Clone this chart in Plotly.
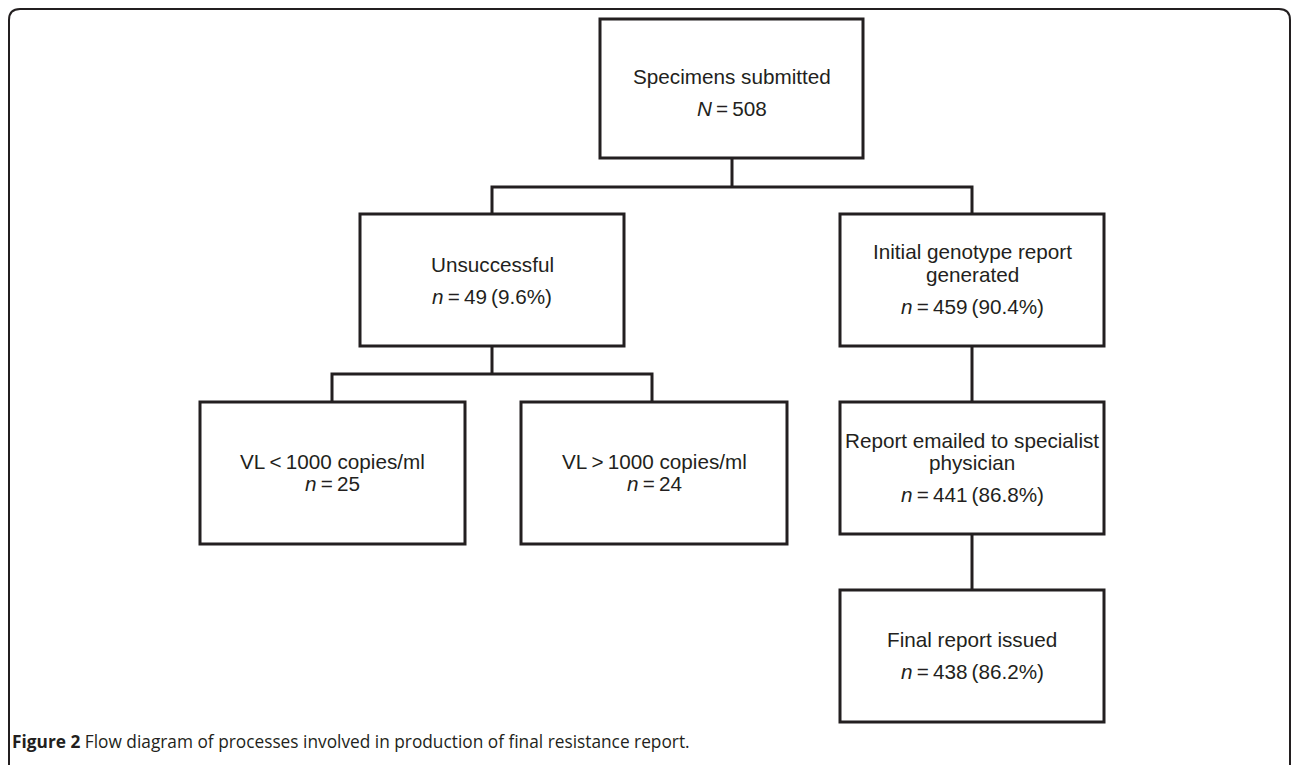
import plotly.graph_objects as go

# ---- data ----
titles = [
    ["Specimens submitted"],
    ["Unsuccessful"],
    ["Initial genotype report", "generated"],
    ["VL\u2009<\u20091000 copies/ml"],
    ["VL\u2009>\u20091000 copies/ml"],
    ["Report emailed to specialist", "physician"],
    ["Final report issued"],
]
count_symbols = ["N", "n", "n", "n", "n", "n", "n"]
counts = [508, 49, 459, 25, 24, 441, 438]
percents = [None, 9.6, 90.4, None, None, 86.8, 86.2]
caption_bold = "Figure 2"
caption_text = " Flow diagram of processes involved in production of final resistance report."

# ---- layout (pixel geometry) ----
W, H = 1292, 765
boxes = [  # x0, x1, y0, y1, line centres
    (600, 863, 19, 158, [76, 108]),
    (360, 624, 214, 346, [264, 296]),
    (840, 1104, 214, 346, [251, 274, 306]),
    (200, 465, 402, 544, [461, 483]),
    (521, 787, 402, 544, [461, 483]),
    (840, 1104, 402, 534, [440, 462, 494]),
    (840, 1104, 590, 722, [639, 671]),
]
connectors = [
    [(732, 158), (732, 187)],
    [(492, 214), (492, 187), (972, 187), (972, 214)],
    [(492, 346), (492, 374)],
    [(332, 402), (332, 374), (652, 374), (652, 402)],
    [(972, 346), (972, 402)],
    [(972, 534), (972, 590)],
]
INK = "#231f20"
FONT = "Liberation Sans, Arial, sans-serif"
FS = 20.7

fig = go.Figure()
shapes = []
annotations = []

# outer rounded frame
shapes.append(dict(type="path", xref="x", yref="y",
                   path="M 9,790 L 9,20 Q 9,9 20,9 L 1279,9 Q 1290,9 1290,20 L 1290,790",
                   line=dict(color=INK, width=2)))

for (x0, x1, y0, y1, ys), tl, sym, c, p in zip(boxes, titles, count_symbols, counts, percents):
    shapes.append(dict(type="rect", xref="x", yref="y", x0=x0, x1=x1, y0=y0, y1=y1,
                       line=dict(color=INK, width=3), fillcolor="white"))
    cnt = f"<i>{sym}</i>\u2009=\u2009{c}"
    if p is not None:
        cnt += f"\u2009({p}%)"
    lines = tl + [cnt]
    xc = (x0 + x1) / 2
    for txt, yy in zip(lines, ys):
        annotations.append(dict(x=xc, y=yy, xref="x", yref="y", text=txt, showarrow=False,
                                xanchor="center", yanchor="middle",
                                font=dict(family=FONT, size=FS, color=INK)))

for seg in connectors:
    path = "M " + " L ".join(f"{x},{y}" for x, y in seg)
    shapes.append(dict(type="path", xref="x", yref="y", path=path,
                       line=dict(color=INK, width=3)))

annotations.append(dict(x=10, y=741, xref="x", yref="y", xanchor="left", yanchor="middle",
                        showarrow=False,
                        text=f"<b>{caption_bold}</b>{caption_text}",
                        font=dict(family="Open Sans, Noto Sans, sans-serif", size=17.3, color=INK)))

fig.update_layout(
    width=W, height=H, margin=dict(l=0, r=0, t=0, b=0),
    paper_bgcolor="white", plot_bgcolor="white",
    xaxis=dict(range=[0, W], visible=False, fixedrange=True),
    yaxis=dict(range=[H, 0], visible=False, fixedrange=True),
    shapes=shapes, annotations=annotations, showlegend=False,
)
fig.write_html("out.html", config={"displayModeBar": False},
               post_script="document.body.style.margin='0';document.body.style.overflow='hidden';")
